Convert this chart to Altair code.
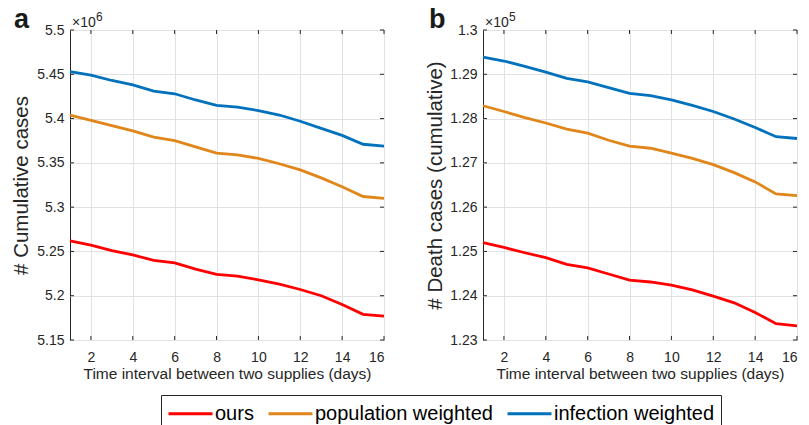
import altair as alt
import pandas as pd

FONT = "Liberation Sans"
INK = "#262626"

# Supply interval (days) on the horizontal axis
days = list(range(1, 17))
x_ticks = [2, 4, 6, 8, 10, 12, 14, 16]

methods = ["ours", "population weighted", "infection weighted"]
colors = ["#ff0000", "#e0861a", "#0072bd"]

# Panel a: cumulative cases (x 10^6)
cases_ours = [5.262, 5.257, 5.251, 5.246, 5.240, 5.237, 5.230, 5.224,
              5.222, 5.218, 5.213, 5.207, 5.200, 5.190, 5.179, 5.177]
cases_pop = [5.404, 5.398, 5.392, 5.386, 5.379, 5.375, 5.368, 5.361,
             5.359, 5.355, 5.349, 5.342, 5.333, 5.323, 5.312, 5.310]
cases_inf = [5.453, 5.449, 5.443, 5.438, 5.431, 5.428, 5.421, 5.415,
             5.413, 5.409, 5.404, 5.397, 5.389, 5.381, 5.371, 5.369]
cases_ticks = [5.15, 5.2, 5.25, 5.3, 5.35, 5.4, 5.45, 5.5]

# Panel b: cumulative death cases (x 10^5)
deaths_ours = [1.2520, 1.2509, 1.2497, 1.2486, 1.2471, 1.2463, 1.2449, 1.2435,
               1.2431, 1.2424, 1.2413, 1.2399, 1.2384, 1.2362, 1.2337, 1.2332]
deaths_pop = [1.2829, 1.2816, 1.2802, 1.2790, 1.2776, 1.2767, 1.2751, 1.2738,
              1.2733, 1.2722, 1.2710, 1.2696, 1.2678, 1.2657, 1.2630, 1.2626]
deaths_inf = [1.2939, 1.2930, 1.2918, 1.2905, 1.2891, 1.2883, 1.2870, 1.2857,
              1.2852, 1.2842, 1.2830, 1.2816, 1.2799, 1.2780, 1.2759, 1.2755]
deaths_ticks = [1.23, 1.24, 1.25, 1.26, 1.27, 1.28, 1.29, 1.3]

W, H = 314, 310
TICK = 4

# legend swatch: a line twice as long as the symbol box it sits in
SWATCH_BOX = 22
SWATCH_PATH = "M-2,0H2"


def panel(series, y_ticks, y_title, letter, exponent, letter_x, title_x):
    df = pd.DataFrame({
        "day": days * 3,
        "value": series[0] + series[1] + series[2],
        "method": [m for m in methods for _ in days],
    })
    xs = alt.Scale(domain=[1, 16], nice=False, zero=False)
    ys = alt.Scale(domain=[y_ticks[0], y_ticks[-1]], nice=False, zero=False)
    x_axis = alt.Axis(values=x_ticks, title="Time interval between two supplies (days)",
                      labelPadding=10, titlePadding=2, titleFontSize=15.5)
    y_axis = alt.Axis(values=y_ticks, format=".2~f", title=y_title,
                      labelPadding=6, titleFontSize=20.5, titleX=title_x)

    lines = alt.Chart(df).mark_line(strokeWidth=2.8).encode(
        x=alt.X("day:Q", scale=xs, axis=x_axis),
        y=alt.Y("value:Q", scale=ys, axis=y_axis),
        color=alt.Color(
            "method:N",
            scale=alt.Scale(domain=methods, range=colors),
            legend=alt.Legend(
                orient="none", legendX=91, legendY=365, direction="horizontal",
                title=None, symbolType=SWATCH_PATH, symbolSize=SWATCH_BOX ** 2,
                symbolStrokeWidth=3, symbolOffset=SWATCH_BOX / 2,
                labelFontSize=20, labelFont=FONT, labelColor="#000000",
                labelOffset=1 + SWATCH_BOX / 2, columnPadding=8,
                padding=6, strokeColor=INK, fillColor="white", labelLimit=400,
            ),
        ),
    )

    # inward ticks on all four sides of the box
    xt = pd.DataFrame({"day": x_ticks})
    yt = pd.DataFrame({"value": y_ticks})
    rule = dict(color=INK, strokeWidth=1)
    bottom = alt.Chart(xt).mark_rule(**rule).encode(
        x=alt.X("day:Q", scale=xs, axis=x_axis), y=alt.value(H), y2=alt.value(H - TICK))
    top = alt.Chart(xt).mark_rule(**rule).encode(
        x=alt.X("day:Q", scale=xs, axis=x_axis), y=alt.value(0), y2=alt.value(TICK))
    left = alt.Chart(yt).mark_rule(**rule).encode(
        y=alt.Y("value:Q", scale=ys, axis=y_axis), x=alt.value(0), x2=alt.value(TICK))
    right = alt.Chart(yt).mark_rule(**rule).encode(
        y=alt.Y("value:Q", scale=ys, axis=y_axis), x=alt.value(W), x2=alt.value(W - TICK))

    letter_mark = alt.Chart(pd.DataFrame({"t": [letter]})).mark_text(
        align="left", baseline="alphabetic", fontSize=27, fontWeight="bold",
        font=FONT, color="#1a1a1a",
    ).encode(text="t:N", x=alt.value(letter_x), y=alt.value(-2))

    times_ten = alt.Chart(pd.DataFrame({"t": ["\u00d710"]})).mark_text(
        align="left", baseline="alphabetic", fontSize=14, font=FONT, color=INK,
    ).encode(text="t:N", x=alt.value(2), y=alt.value(-3))

    power = alt.Chart(pd.DataFrame({"t": [exponent]})).mark_text(
        align="left", baseline="alphabetic", fontSize=12, font=FONT, color=INK,
    ).encode(text="t:N", x=alt.value(26), y=alt.value(-9))

    return alt.layer(lines, bottom, top, left, right, letter_mark, times_ten, power).properties(
        width=W, height=H)


pa = panel([cases_ours, cases_pop, cases_inf], cases_ticks, "# Cumulative cases", "a", "6", -56, -39)
pb = panel([deaths_ours, deaths_pop, deaths_inf], deaths_ticks, "# Death cases (cumulative)", "b", "5", -54, -38)

chart = alt.hconcat(pa, pb, spacing=99, bounds="flush").properties(
    padding={"left": 10, "top": 5, "right": 0, "bottom": 0},
    background="white",
).configure(
    font=FONT,
).configure_view(
    stroke=INK, strokeWidth=1,
).configure_axis(
    grid=True, gridColor="#e2e2e2", gridWidth=1, domain=False, ticks=False,
    labelFont=FONT, labelFontSize=14, labelColor=INK,
    titleFont=FONT, titleFontWeight="normal", titleColor=INK,
)

chart.save("out.html", embed_options={"renderer": "svg", "actions": False})
